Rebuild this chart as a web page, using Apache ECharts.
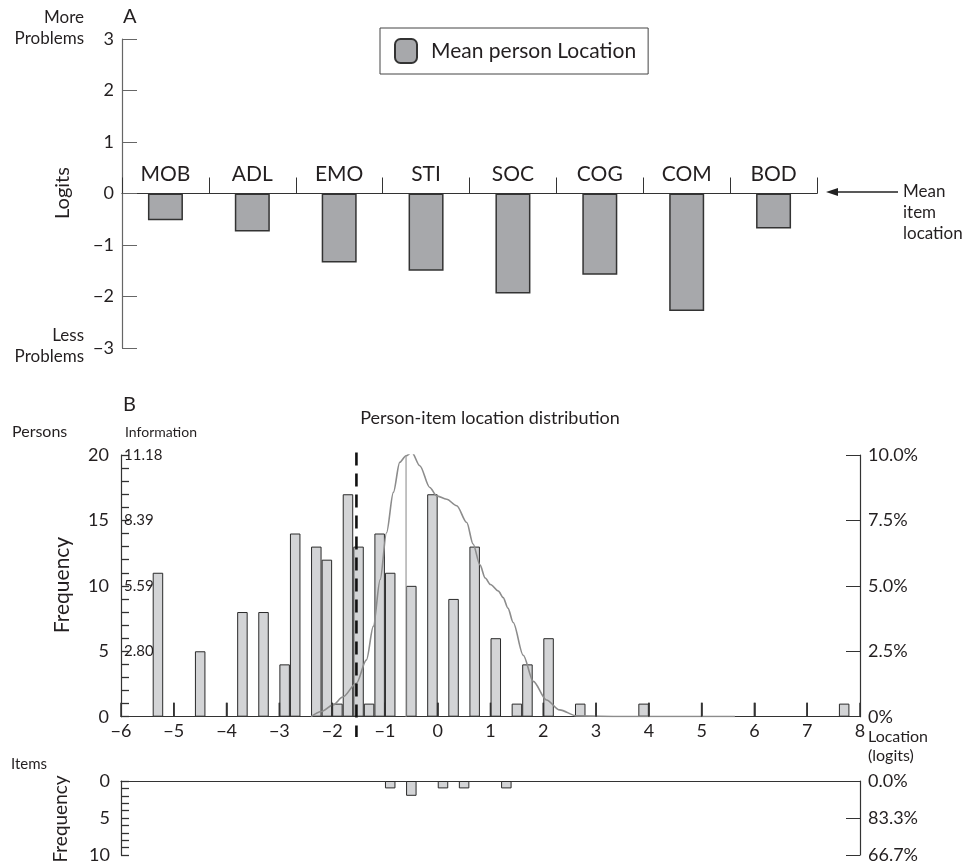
<!DOCTYPE html>
<html>
<head>
<meta charset="utf-8">
<script src="https://cdn.jsdelivr.net/npm/echarts@6/dist/echarts.min.js"></script>
<style>
html,body{margin:0;padding:0;background:#fff;}
#chart{width:968px;height:866px;}
</style>
</head>
<body>
<div id="chart"></div>
<script>
// ---------- Panel A data ----------
const categories = ['MOB', 'ADL', 'EMO', 'STI', 'SOC', 'COG', 'COM', 'BOD'];
const meanPersonLocation = [-0.52, -0.74, -1.34, -1.50, -1.94, -1.58, -2.28, -0.68];
const panelAMin = -3, panelAMax = 3;

// ---------- Panel B: persons histogram ----------
const personBinCenters = [-5.3, -4.5, -3.7, -3.3, -2.9, -2.7, -2.3, -2.1, -1.9, -1.7, -1.5, -1.3, -1.1, -0.9, -0.5, -0.1, 0.3, 0.7, 1.1, 1.5, 1.7, 2.1, 2.7, 3.9, 7.7];
const personCounts     = [11, 5, 8, 8, 4, 14, 13, 12, 1, 17, 13, 1, 14, 11, 10, 17, 9, 13, 6, 1, 4, 6, 1, 1, 1];
const locationMin = -6, locationMax = 8;
const freqMax = 20;

// information / distribution curve (percent, right axis)
const curveX = [-2.4, -2.2, -1.98, -1.8, -1.54, -1.35, -1.22, -1.09, -0.97, -0.84, -0.72, -0.6, -0.49, -0.34, -0.15, -0.02, 0.17, 0.36, 0.55, 0.67, 0.8, 0.9, 1.0, 1.15, 1.24, 1.33, 1.43, 1.62, 1.81, 2.06, 2.31, 2.63, 3.5, 5.63];
const curveY = [0, 0.2, 0.45, 0.75, 1.28, 2.17, 3.45, 5.24, 7.03, 8.57, 9.72, 9.97, 10.1, 9.59, 8.76, 8.44, 8.31, 8.06, 7.42, 6.6, 5.8, 5.3, 5.05, 4.8, 4.55, 4.15, 3.6, 2.35, 1.35, 0.64, 0.26, 0.03, 0.01, 0.01];
const peakLineX = -0.6;
const peakLineTop = 9.97;

const meanPersonB = -1.54;        // dashed line location (logits)
const dashedSpan = [20.2, -1.55]; // frequency units, top & bottom of dashed line

const infoLabels = {20: '11.18', 15: '8.39', 10: '5.59', 5: '2.80'};
const pctTicks = [0, 2.5, 5, 7.5, 10];

// ---------- Items histogram ----------
const itemBinCenters = [-0.9, -0.5, 0.1, 0.5, 1.3];
const itemCounts     = [1, 2, 1, 1, 1];
const itemPctLabels = {0: '0.0%', 5: '83.3%', 10: '66.7%'};

// ---------- rendering ----------
const FONT = 'Lato, "Open Sans", sans-serif';
const TXT = '#231f20';
const AX = '#333';
const minus = v => String(v).replace('-', '\u2212');

const gridA = {left: 122, top: 39, width: 695, height: 309};
const gridB = {left: 121, top: 455, width: 739, height: 261.7};
const gridC = {left: 121, top: 781, width: 739, height: 74};
// put the category axis on the zero line of panel A
const zeroOffset = -gridA.height * (0 - panelAMin) / (panelAMax - panelAMin);

// inward x ticks of panel B (14px long), drawn as tiny line series on the axes
const tickLenUnits = 14 * freqMax / gridB.height;
const tickPoints = [];
for (let v = locationMin + 1; v < locationMax; v++) {
  tickPoints.push([v, 0], [v, tickLenUnits], [v, '-']);
}

const chart = echarts.init(document.getElementById('chart'), null, {renderer: 'canvas'});

const option = {
  animation: false,
  backgroundColor: '#fff',
  textStyle: {fontFamily: FONT, color: TXT},
  legend: {
    data: ['Mean person Location'],
    left: 380, top: 28,
    padding: [10, 12, 10, 14],
    borderColor: '#444', borderWidth: 1,
    itemWidth: 22, itemHeight: 24,
    textStyle: {fontSize: 21, color: TXT, fontFamily: FONT, padding: [0, 0, 0, 9]}
  },
  grid: [gridA, gridB, gridC],
  xAxis: [
    {
      gridIndex: 0, type: 'category', data: categories, boundaryGap: true,
      position: 'bottom', offset: zeroOffset,
      axisLine: {onZero: false, lineStyle: {color: AX, width: 1.2}},
      axisTick: {show: true, inside: true, length: 16, alignWithLabel: false, interval: 0, lineStyle: {color: AX}},
      axisLabel: {inside: true, margin: 9, fontSize: 21, color: TXT, fontFamily: FONT}
    },
    {
      gridIndex: 1, type: 'value', min: locationMin, max: locationMax, interval: 1,
      axisLine: {onZero: false, lineStyle: {color: AX, width: 1.2}},
      axisTick: {show: true, inside: true, length: 14, lineStyle: {color: AX, width: 1.5}},
      axisLabel: {margin: 5, fontSize: 18, color: TXT, fontFamily: FONT, formatter: minus},
      splitLine: {show: false}
    },
    {
      gridIndex: 2, type: 'value', min: locationMin, max: locationMax, interval: 1, position: 'top',
      axisLine: {onZero: false, lineStyle: {color: AX, width: 1.2}},
      axisTick: {show: false}, axisLabel: {show: false}, splitLine: {show: false}
    }
  ],
  yAxis: [
    { // 0: panel A logits
      gridIndex: 0, type: 'value', min: panelAMin, max: panelAMax, interval: 1,
      axisLine: {show: true, onZero: false, lineStyle: {color: '#666', width: 1.2}},
      axisTick: {show: true, inside: true, length: 15, lineStyle: {color: '#666'}},
      axisLabel: {margin: 8, fontSize: 18, color: TXT, fontFamily: FONT, formatter: minus},
      splitLine: {show: false}
    },
    { // 1: persons frequency
      gridIndex: 1, type: 'value', min: 0, max: freqMax, interval: 1,
      axisLine: {show: true, onZero: false, lineStyle: {color: AX, width: 1.2}},
      axisTick: {show: true, inside: true, length: 8, lineStyle: {color: AX, width: 1.3}},
      axisLabel: {margin: 12, fontSize: 18, color: TXT, fontFamily: FONT,
        formatter: v => (v % 5 === 0 ? String(v) : '')},
      splitLine: {show: false}
    },
    { // 2: information labels (inside)
      gridIndex: 1, type: 'value', min: 0, max: freqMax, interval: 5, position: 'left',
      axisLine: {show: false, onZero: false}, axisTick: {show: false}, splitLine: {show: false},
      axisLabel: {inside: true, margin: 3, fontSize: 15, color: TXT, fontFamily: FONT,
        formatter: v => infoLabels[v] || ''}
    },
    { // 3: percent right
      gridIndex: 1, type: 'value', min: 0, max: 10, interval: 2.5, position: 'right',
      axisLine: {show: true, onZero: false, lineStyle: {color: AX, width: 1.2}},
      axisTick: {show: true, inside: true, length: 14, lineStyle: {color: AX}},
      axisLabel: {margin: 8, fontSize: 18, color: TXT, fontFamily: FONT,
        formatter: v => (pctTicks.indexOf(v) >= 0 ? (v === 0 ? '0%' : v.toFixed(1) + '%') : '')},
      splitLine: {show: false}
    },
    { // 4: items frequency (inverted)
      gridIndex: 2, type: 'value', min: 0, max: 10, interval: 1, inverse: true,
      axisLine: {show: true, onZero: false, lineStyle: {color: AX, width: 1.2}},
      axisTick: {show: true, inside: true, length: 8, lineStyle: {color: AX, width: 1.3}},
      axisLabel: {margin: 11, fontSize: 18, color: TXT, fontFamily: FONT,
        formatter: v => (v % 5 === 0 ? String(v) : '')},
      splitLine: {show: false}
    },
    { // 5: items percent right
      gridIndex: 2, type: 'value', min: 0, max: 10, interval: 5, inverse: true, position: 'right',
      axisLine: {show: true, onZero: false, lineStyle: {color: AX, width: 1.2}},
      axisTick: {show: true, inside: true, length: 14, lineStyle: {color: AX}},
      axisLabel: {margin: 8, fontSize: 18, color: TXT, fontFamily: FONT,
        formatter: v => itemPctLabels[v] || ''},
      splitLine: {show: false}
    }
  ],
  series: [
    {
      name: 'Mean person Location', type: 'bar', xAxisIndex: 0, yAxisIndex: 0,
      data: meanPersonLocation, barWidth: 35,
      itemStyle: {color: '#a7a8ab', borderColor: '#333', borderWidth: 1.5}
    },
    {
      name: 'Persons', type: 'bar', xAxisIndex: 1, yAxisIndex: 1,
      data: personBinCenters.map((x, i) => [x, personCounts[i]]),
      barWidth: 10.5,
      itemStyle: {color: '#d3d4d6', borderColor: '#2a2a2a', borderWidth: 1}
    },
    {
      name: 'Distribution', type: 'line', xAxisIndex: 1, yAxisIndex: 3,
      data: curveX.map((x, i) => [x, curveY[i]]),
      smooth: 0.3, smoothMonotone: 'x', symbol: 'none',
      lineStyle: {color: '#8c8c8c', width: 1.6}, z: 3
    },
    {
      name: 'PeakLine', type: 'line', xAxisIndex: 1, yAxisIndex: 3,
      data: [[peakLineX, 0], [peakLineX, peakLineTop]], symbol: 'none',
      lineStyle: {color: '#9a9a9a', width: 1.2}, z: 3
    },
    {
      name: 'MeanPersonB', type: 'line', xAxisIndex: 1, yAxisIndex: 1, clip: false,
      data: [[meanPersonB, dashedSpan[0]], [meanPersonB, dashedSpan[1]]], symbol: 'none',
      lineStyle: {color: '#111', width: 2.6, type: [13, 8]}, z: 4
    },
    {
      name: 'XTicks', type: 'line', xAxisIndex: 1, yAxisIndex: 1, silent: true,
      data: tickPoints, symbol: 'none', connectNulls: false,
      lineStyle: {color: '#333', width: 1.6}, z: 10
    },
    {
      name: 'Items', type: 'bar', xAxisIndex: 2, yAxisIndex: 4,
      data: itemBinCenters.map((x, i) => [x, itemCounts[i]]),
      barWidth: 10.5,
      itemStyle: {color: '#d3d4d6', borderColor: '#2a2a2a', borderWidth: 1}
    }
  ],
  graphic: [
    {type: 'text', left: 123, top: 7, style: {text: 'A', fontSize: 20, fill: TXT, fontFamily: FONT}},
    {type: 'text', right: 884, top: 9, style: {text: 'More', fontSize: 17, fill: TXT, fontFamily: FONT, textAlign: 'right'}},
    {type: 'text', right: 884, top: 30, style: {text: 'Problems', fontSize: 17, fill: TXT, fontFamily: FONT, textAlign: 'right'}},
    {type: 'text', right: 884, top: 327, style: {text: 'Less', fontSize: 17, fill: TXT, fontFamily: FONT, textAlign: 'right'}},
    {type: 'text', right: 884, top: 348, style: {text: 'Problems', fontSize: 17, fill: TXT, fontFamily: FONT, textAlign: 'right'}},
    {type: 'text', x: 63, y: 193, rotation: Math.PI / 2,
      style: {text: 'Logits', fontSize: 20, fill: TXT, fontFamily: FONT, textAlign: 'center', textVerticalAlign: 'middle'}},
    {type: 'line', shape: {x1: 834, y1: 192, x2: 898, y2: 192}, style: {stroke: '#222', lineWidth: 1.3}},
    {type: 'polygon', shape: {points: [[826, 192], [838, 188], [838, 196]]}, style: {fill: '#222'}},
    {type: 'text', left: 903, top: 181, style: {text: 'Mean\nitem\nlocation', fontSize: 17, lineHeight: 21, fill: TXT, fontFamily: FONT}},

    {type: 'text', left: 123, top: 395, style: {text: 'B', fontSize: 20, fill: TXT, fontFamily: FONT}},
    {type: 'text', x: 490, y: 418, style: {text: 'Person-item location distribution', fontSize: 18, fill: TXT, fontFamily: FONT, textAlign: 'center', textVerticalAlign: 'middle'}},
    {type: 'text', left: 12, top: 424, style: {text: 'Persons', fontSize: 16, fill: TXT, fontFamily: FONT}},
    {type: 'text', left: 125, top: 425, style: {text: 'Information', fontSize: 14, fill: TXT, fontFamily: FONT}},
    {type: 'text', x: 62, y: 585, rotation: Math.PI / 2,
      style: {text: 'Frequency', fontSize: 21, fill: TXT, fontFamily: FONT, textAlign: 'center', textVerticalAlign: 'middle'}},
    {type: 'text', left: 868, top: 727, style: {text: 'Location\n(logits)', fontSize: 16, lineHeight: 19, fill: TXT, fontFamily: FONT}},

    {type: 'text', left: 11, top: 757, style: {text: 'Items', fontSize: 15, fill: TXT, fontFamily: FONT}},
    {type: 'text', x: 61, y: 819, rotation: Math.PI / 2,
      style: {text: 'Frequency', fontSize: 19, fill: TXT, fontFamily: FONT, textAlign: 'center', textVerticalAlign: 'middle'}}
  ]
};

chart.setOption(option);
</script>
</body>
</html>
